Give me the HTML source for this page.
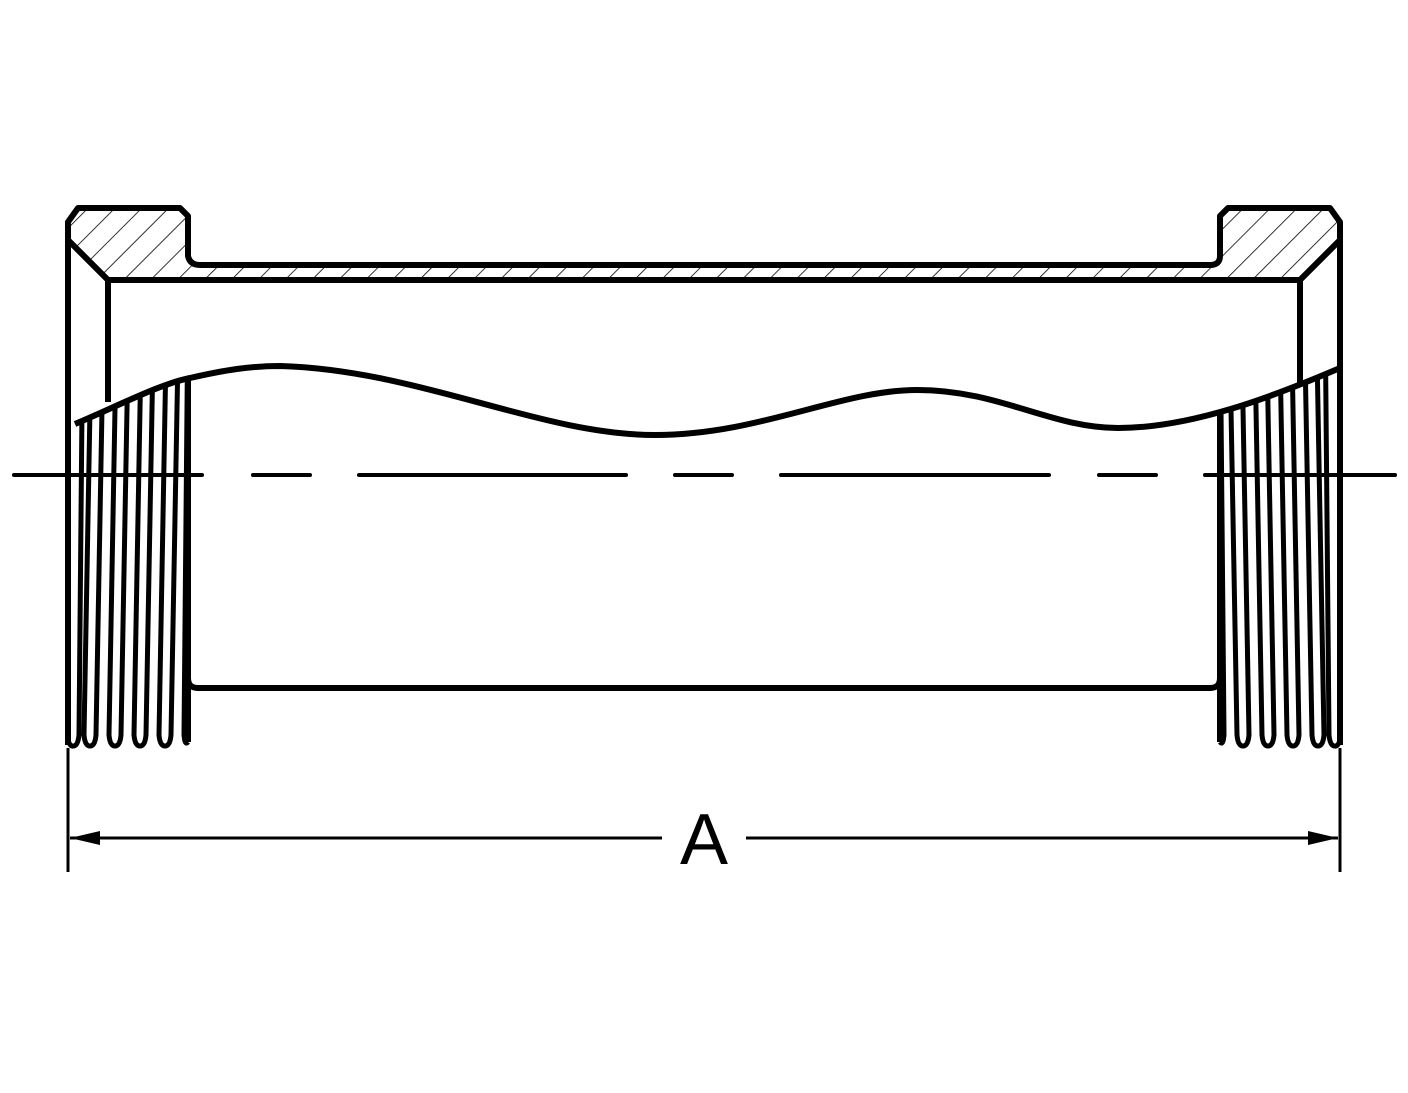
<!DOCTYPE html>
<html><head><meta charset="utf-8"><style>html,body{margin:0;padding:0;background:#fff}</style></head>
<body>
<svg width="1408" height="1088" viewBox="0 0 1408 1088" xmlns="http://www.w3.org/2000/svg">
<defs>
<pattern id="h" patternUnits="userSpaceOnUse" width="19" height="19" patternTransform="rotate(45)">
<line x1="0" y1="0" x2="0" y2="19" stroke="#000" stroke-width="1.6"/>
</pattern>
<clipPath id="below">
<path d="M60,428 L75,424 C120,405 160,384 190,378 C225,370 250,366 280,366 C420,370 540,435 655,435 C760,435 840,390 917,390 C1000,390 1050,428 1118,428 C1190,428 1270,398 1345,366 L1345,760 L60,760 Z"/>
</clipPath>
</defs>
<path d="M68,222 L78,208 L180,208 L188,216 L188,256 Q190,265 200,265 L1210,265 Q1220,265 1220,256 L1220,216 L1228,208 L1330,208 L1340,222 L1340,240 L1300,280 L108,280 L68,240 Z" fill="url(#h)"/>
<g clip-path="url(#below)" fill="none" stroke="#000" stroke-width="5" stroke-linejoin="round">
<g id="thr">
<path d="M68,740 Q70,747 74,746 Q78,745 79,735 L83,300"/>
<path d="M92,300 L84,735 Q85,746 90,746 Q95,746 96,735 L104,300"/>
<path d="M117,300 L109,735 Q110,746 115,746 Q120,746 121,735 L129,300"/>
<path d="M142,300 L134,735 Q135,746 140,746 Q145,746 146,735 L154,300"/>
<path d="M167,300 L159,735 Q160,746 165,746 Q170,746 171,735 L179,300"/>
<path d="M188,300 L184,735 Q185,746 188,742"/>
</g>
<use href="#thr" transform="matrix(-1,0,0,1,1408,0)"/>
</g>
<g fill="none" stroke="#000" stroke-width="6" stroke-linejoin="round">
<path d="M68,745 L68,222 L78,208 L180,208 L188,216 L188,256 Q190,265 200,265 L1210,265 Q1220,265 1220,256 L1220,216 L1228,208 L1330,208 L1340,222 L1340,745"/>
<path d="M68,240 L108,280 L1300,280 L1340,240"/>
<path d="M108,280 L108,402"/>
<path d="M1300,280 L1300,385"/>
<path d="M75,424 C120,405 160,384 190,378 C225,370 250,366 280,366 C420,370 540,435 655,435 C760,435 840,390 917,390 C1000,390 1050,428 1118,428 C1190,428 1270,398 1340,368"/>
<path d="M188,378 L188,742 M188,678 Q188,688 198,688 L1210,688 Q1220,688 1220,678 M1220,410 L1220,742"/>
</g>
<g stroke="#000" stroke-width="4" stroke-linecap="round">
<line x1="14" y1="475" x2="202" y2="475"/>
<line x1="253" y1="475" x2="310" y2="475"/>
<line x1="359" y1="475" x2="626" y2="475"/>
<line x1="675" y1="475" x2="732" y2="475"/>
<line x1="781" y1="475" x2="1049" y2="475"/>
<line x1="1099" y1="475" x2="1156" y2="475"/>
<line x1="1205" y1="475" x2="1395" y2="475"/>
</g>
<g stroke="#000" stroke-width="3">
<line x1="68" y1="748" x2="68" y2="872"/>
<line x1="1340" y1="748" x2="1340" y2="872"/>
<line x1="70" y1="838" x2="662" y2="838"/>
<line x1="746" y1="838" x2="1338" y2="838"/>
</g>
<path d="M70,838 L100,831 L100,845 Z M1338,838 L1308,831 L1308,845 Z" fill="#000"/>
<text x="704" y="864" text-anchor="middle" font-family="Liberation Sans, sans-serif" font-size="72" fill="#000">A</text>
</svg>
</body></html>
